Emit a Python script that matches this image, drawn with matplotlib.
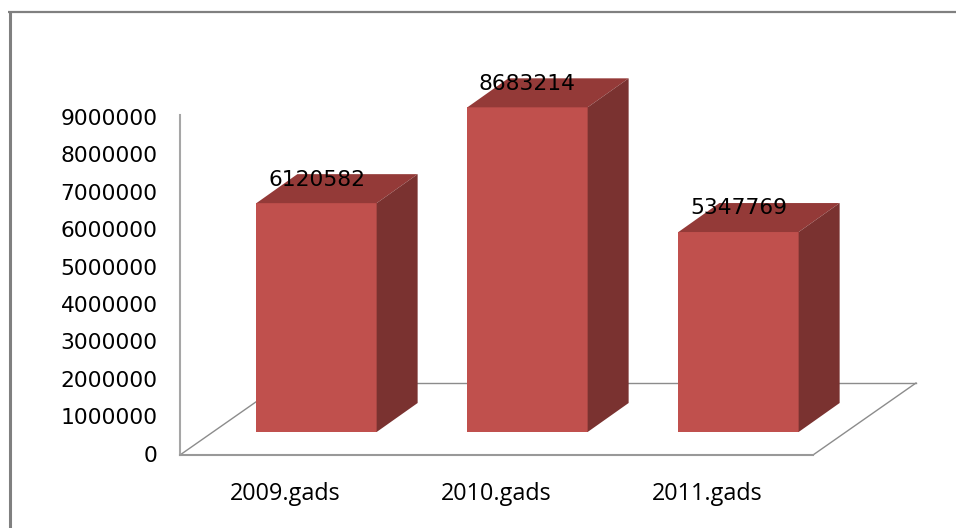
import numpy as np
import matplotlib
matplotlib.use('Agg')
import matplotlib.pyplot as plt
from matplotlib.lines import Line2D
from matplotlib.transforms import Affine2D

# values
categories = ['2009.gads', '2010.gads', '2011.gads']
values = [6120582, 8683214, 5347769]
y_ticks = [0, 1000000, 2000000, 3000000, 4000000, 5000000, 6000000, 7000000, 8000000, 9000000]

W, H = 956, 528
fig = plt.figure(figsize=(W / 100, H / 100), dpi=100)

# axes box in pixels of the image
ax = fig.add_axes([180 / W, 1 - 455 / H, (813 - 180) / W, (455 - 115) / H])
ax.set_xlim(-0.5, 2.5)
ax.set_ylim(-40000, 9053000)
ax.patch.set_alpha(0)

px_x = 3 / 633.0
px_y = (9053000 + 40000) / 340.0


# bars stand a bit behind the front edge of the floor
bar_trans = ax.transData + Affine2D().translate(31, 21.5)
x = np.arange(len(categories))
bar_w = 0.57
dx = 41 * px_x
dy = 29 * px_y

for xi, v in zip(x, values):
    l, r = xi - bar_w / 2, xi + bar_w / 2
    ax.bar(xi, v, width=bar_w, color='#C0504D', transform=bar_trans, zorder=3, clip_on=False)
    # top face
    ax.fill([l, r, r + dx, l + dx], [v, v, v + dy, v + dy], color='#943A38', lw=0,
            transform=bar_trans, zorder=3, clip_on=False)
    # side face
    ax.fill([r, r + dx, r + dx, r], [0, dy, v + dy, v], color='#7A3230', lw=0,
            transform=bar_trans, zorder=3, clip_on=False)
    ax.annotate(str(v), (xi, v), xycoords=bar_trans, xytext=(0, 17), textcoords='offset points',
                ha='center', va='center', fontsize=15.7, color='black', zorder=5)

# floor of the 3d box, behind the bars
gray = '#8c8c8c'
floor_dx = 103 * px_x
floor_dy = 72 * px_y
y0 = ax.get_ylim()[0]
ax.plot([-0.5, -0.5 + floor_dx], [y0, y0 + floor_dy], color=gray, lw=1, zorder=1, clip_on=False)
ax.plot([2.5, 2.5 + floor_dx], [y0, y0 + floor_dy], color=gray, lw=1, zorder=1, clip_on=False)
ax.plot([-0.5 + floor_dx, 2.5 + floor_dx], [y0 + floor_dy, y0 + floor_dy], color=gray, lw=1,
        zorder=1, clip_on=False)

for s in ['top', 'right']:
    ax.spines[s].set_visible(False)
ax.spines['left'].set_color('#a6a6a6')
ax.spines['left'].set_linewidth(1.5)
ax.spines['bottom'].set_color('#999999')
ax.spines['bottom'].set_linewidth(1.5)

ax.set_yticks(y_ticks)
ax.set_yticklabels([str(t) for t in y_ticks], fontsize=15.7)
ax.set_xticks(x)
ax.set_xticklabels(categories, fontsize=16.8, family='Open Sans')
ax.tick_params(axis='y', length=0, pad=16)
ax.tick_params(axis='x', length=0, pad=19.5)

# outer frame runs off the picture on the right and at the bottom
fig.add_artist(Line2D([9.5 / W, 9.5 / W], [0, 1 - 11 / H], color='#808080', lw=2.2,
                      solid_capstyle='butt'))
fig.add_artist(Line2D([8 / W, 1], [1 - 12 / H, 1 - 12 / H], color='#808080', lw=1.6,
                      solid_capstyle='butt'))

fig.savefig('out.png', dpi=100)
